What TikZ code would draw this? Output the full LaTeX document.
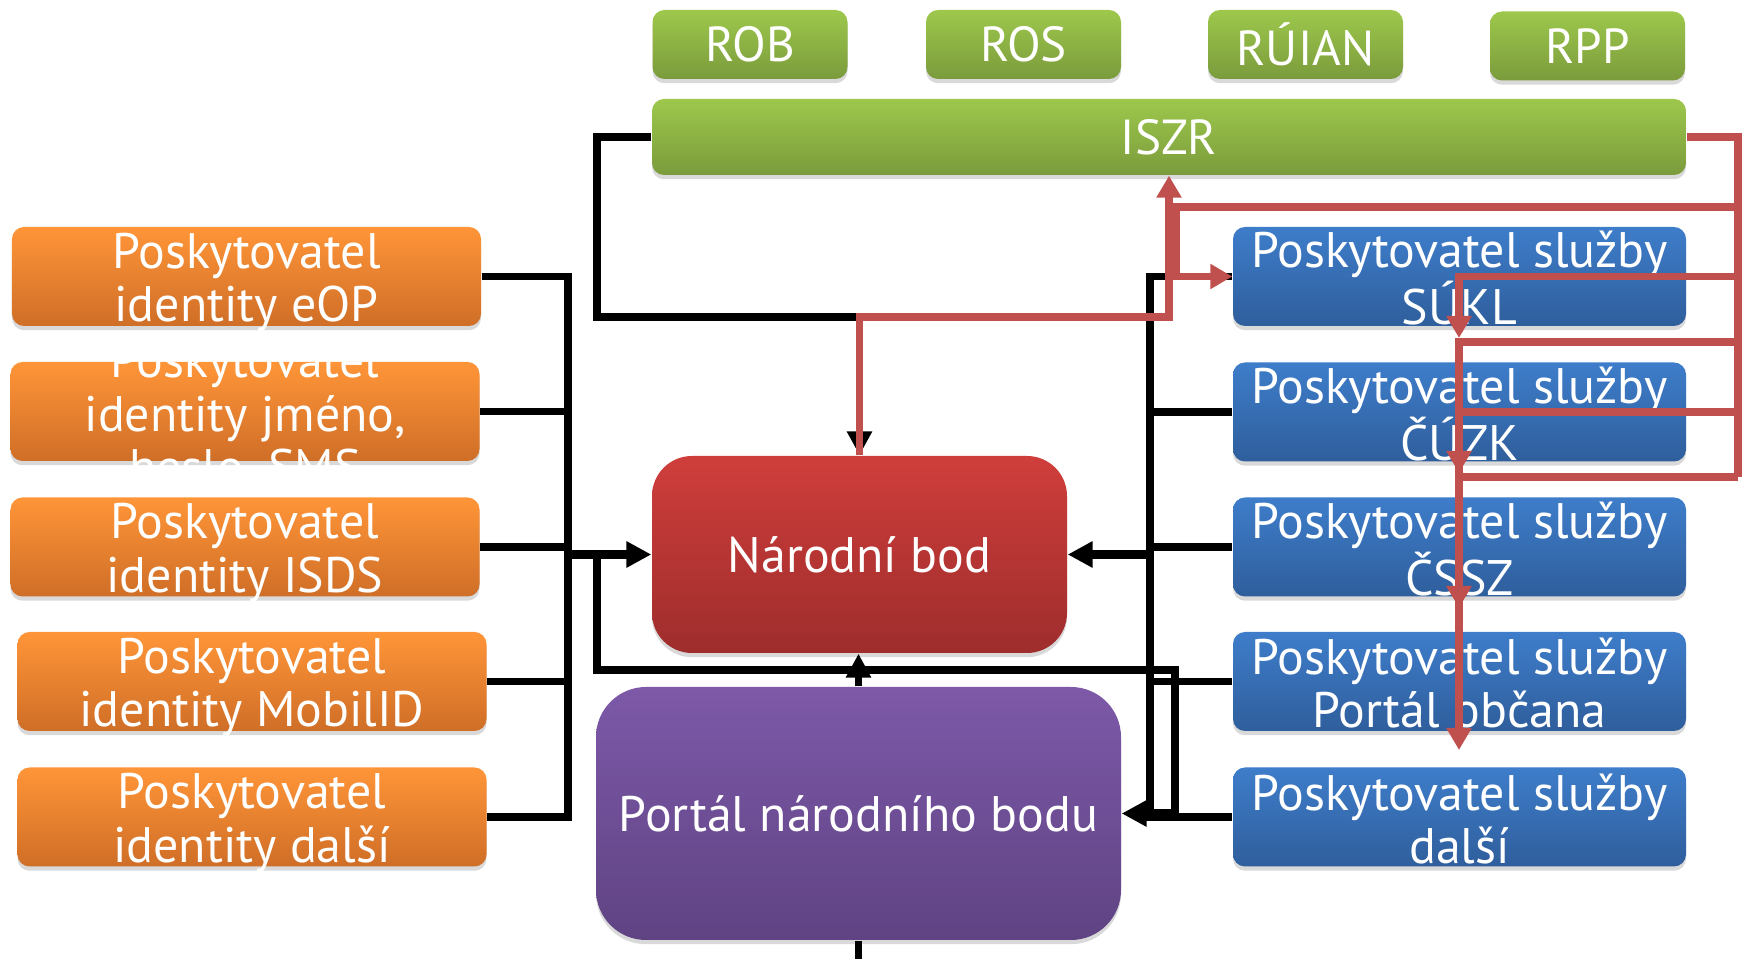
\documentclass[tikz,border=0pt]{standalone}
\usepackage{fontspec}
\setmainfont{PT Sans}
\usetikzlibrary{arrows.meta,calc,shadows}
\definecolor{grnT}{HTML}{9DC84C}
\definecolor{grnB}{HTML}{7B9B3C}
\definecolor{orT}{HTML}{FF9538}
\definecolor{orB}{HTML}{CF6E27}
\definecolor{blT}{HTML}{3E7DCA}
\definecolor{blB}{HTML}{2F5E9C}
\definecolor{nbT}{HTML}{CF3E3B}
\definecolor{nbB}{HTML}{9E2D2C}
\definecolor{puT}{HTML}{7D59A8}
\definecolor{puB}{HTML}{5F4383}
\definecolor{redln}{HTML}{C0504D}
\newcommand\idstrut{\rule{0pt}{13.4pt}}
\newcommand\spstrut{\rule{0pt}{11.4pt}}

\begin{document}
\begin{tikzpicture}[
box/.style={rounded corners=1.2mm,minimum height=9.9mm,inner xsep=0pt,inner ysep=-3pt,align=center,text=white,font=\fontsize{14.2}{15.2}\selectfont,drop shadow={shadow xshift=0pt,shadow yshift=-1.2pt,opacity=0.3}},
reg/.style={box,top color=grnT,bottom color=grnB,minimum width=19.5mm,minimum height=6.9mm,font=\fontsize{14}{16}\selectfont},
idp/.style={box,top color=orT,bottom color=orB,minimum width=46.9mm},
sp/.style={box,top color=blT,bottom color=blB,minimum width=45.3mm},
wire/.style={line width=2pt},
arr/.style={wire,-{Triangle[length=2.4mm,width=2.4mm]}},
big/.style={line width=2.6pt,-{Triangle[length=2.5mm,width=2.5mm]}},
rwire/.style={line width=2pt,draw=redln},
rarr/.style={rwire,-{Triangle[length=2.2mm,width=2.4mm]}}]
\useasboundingbox (0,0) rectangle (17.45,-9.59);
% registry
\node[reg] (rob) at (7.50,-0.445) {ROB};
\node[reg] (ros) at (10.235,-0.445) {ROS};
\node[reg] (ruian) at (13.055,-0.445) {RÚIAN};
\node[reg] (rpp) at (15.875,-0.46) {RPP};
\node[reg,minimum width=103.4mm,minimum height=7.6mm] (iszr) at (11.69,-1.37) {ISZR};
% identity providers
\node[idp] (eop) at (2.465,-2.765) {\idstrut Poskytovatel\\identity eOP};
\node[idp] (jmeno) at (2.45,-4.115) {};
\node[text=white,align=center,font=\fontsize{14.2}{15.2}\selectfont] at (jmeno) {\idstrut Poskytovatel\\identity jméno,\\heslo, SMS};
\node[idp] (isds) at (2.45,-5.47) {\idstrut Poskytovatel\\identity ISDS};
\node[idp] (mobil) at (2.52,-6.815) {\idstrut Poskytovatel\\identity MobilID};
\node[idp] (iddalsi) at (2.52,-8.17) {\idstrut Poskytovatel\\identity další};
% service providers
\node[sp] (sukl) at (14.595,-2.765) {\spstrut Poskytovatel služby\\SÚKL};
\node[sp] (cuzk) at (14.595,-4.12) {\spstrut Poskytovatel služby\\ČÚZK};
\node[sp] (cssz) at (14.595,-5.47) {\spstrut Poskytovatel služby\\ČSSZ};
\node[sp] (obcan) at (14.595,-6.815) {\spstrut Poskytovatel služby\\Portál občana};
\node[sp] (spdalsi) at (14.595,-8.17) {\spstrut Poskytovatel služby\\další};
% centre
\node[box,top color=nbT,bottom color=nbB,minimum width=41.5mm,minimum height=19.7mm,rounded corners=4mm] (nb) at (8.595,-5.545) {Národní bod};
\node[box,top color=puT,bottom color=puB,minimum width=52.5mm,minimum height=25.3mm,rounded corners=5mm] (pnb) at (8.585,-8.135) {Portál národního bodu};
\coordinate (lb) at (5.68,-5.545);
\coordinate (rb) at (11.50,-5.545);
\coordinate (lp) at (5.97,-3.17);
\coordinate (lq) at (5.97,-6.70);
\coordinate (rq) at (11.75,-6.70);
\coordinate (vyst) at (8.585,-9.8);
\coordinate (rr) at (17.38,-4.77);
\coordinate (ra) at (11.76,-2.07);
\coordinate (h2) at (17.38,-3.42);
\coordinate (t1) at (14.59,-3.38);
\coordinate (t2) at (14.59,-4.73);
\coordinate (t3) at (14.59,-6.08);
\coordinate (t4) at (14.59,-7.50);
% black connectors
\draw[wire] (eop.east) -| (lb) |- (iddalsi.east);
\foreach \n in {jmeno,isds,mobil} \draw[wire] (\n.east) -- (\n.east -| lb);
\draw[big] (lb) -- (nb.west);
\draw[wire] (sukl.west) -| (rb) |- (spdalsi.west);
\foreach \n in {cuzk,cssz,obcan} \draw[wire] (\n.west) -- (\n.west -| rb);
\draw[big] (rb) -- (nb.east);
\draw[wire] (lb -| lq) -- (lq) -- (rq) -- (rq |- pnb.east);
\draw[big] (rq |- pnb.east) -- (pnb.east);
\draw[arr] (iszr.west) -| (lp) -| (nb.north);
\draw[arr] (pnb.north) -- (pnb.north |- nb.south);
\draw[wire] (pnb.south) -- (vyst);
% red connectors
\draw[rarr] (nb.north) -- (nb.north |- lp) -| (iszr.south);
\draw[rwire] (iszr.east) -| (rr);
\draw[rarr] (rr |- ra) -- (ra) |- (sukl.west);
\draw[rarr] (rr |- sukl) -| (t1);
\draw[rarr] (h2) -| (t2);
\draw[rarr] (rr |- cuzk) -| (t3);
\draw[rarr] (rr) -| (t4);
\end{tikzpicture}
\end{document}
